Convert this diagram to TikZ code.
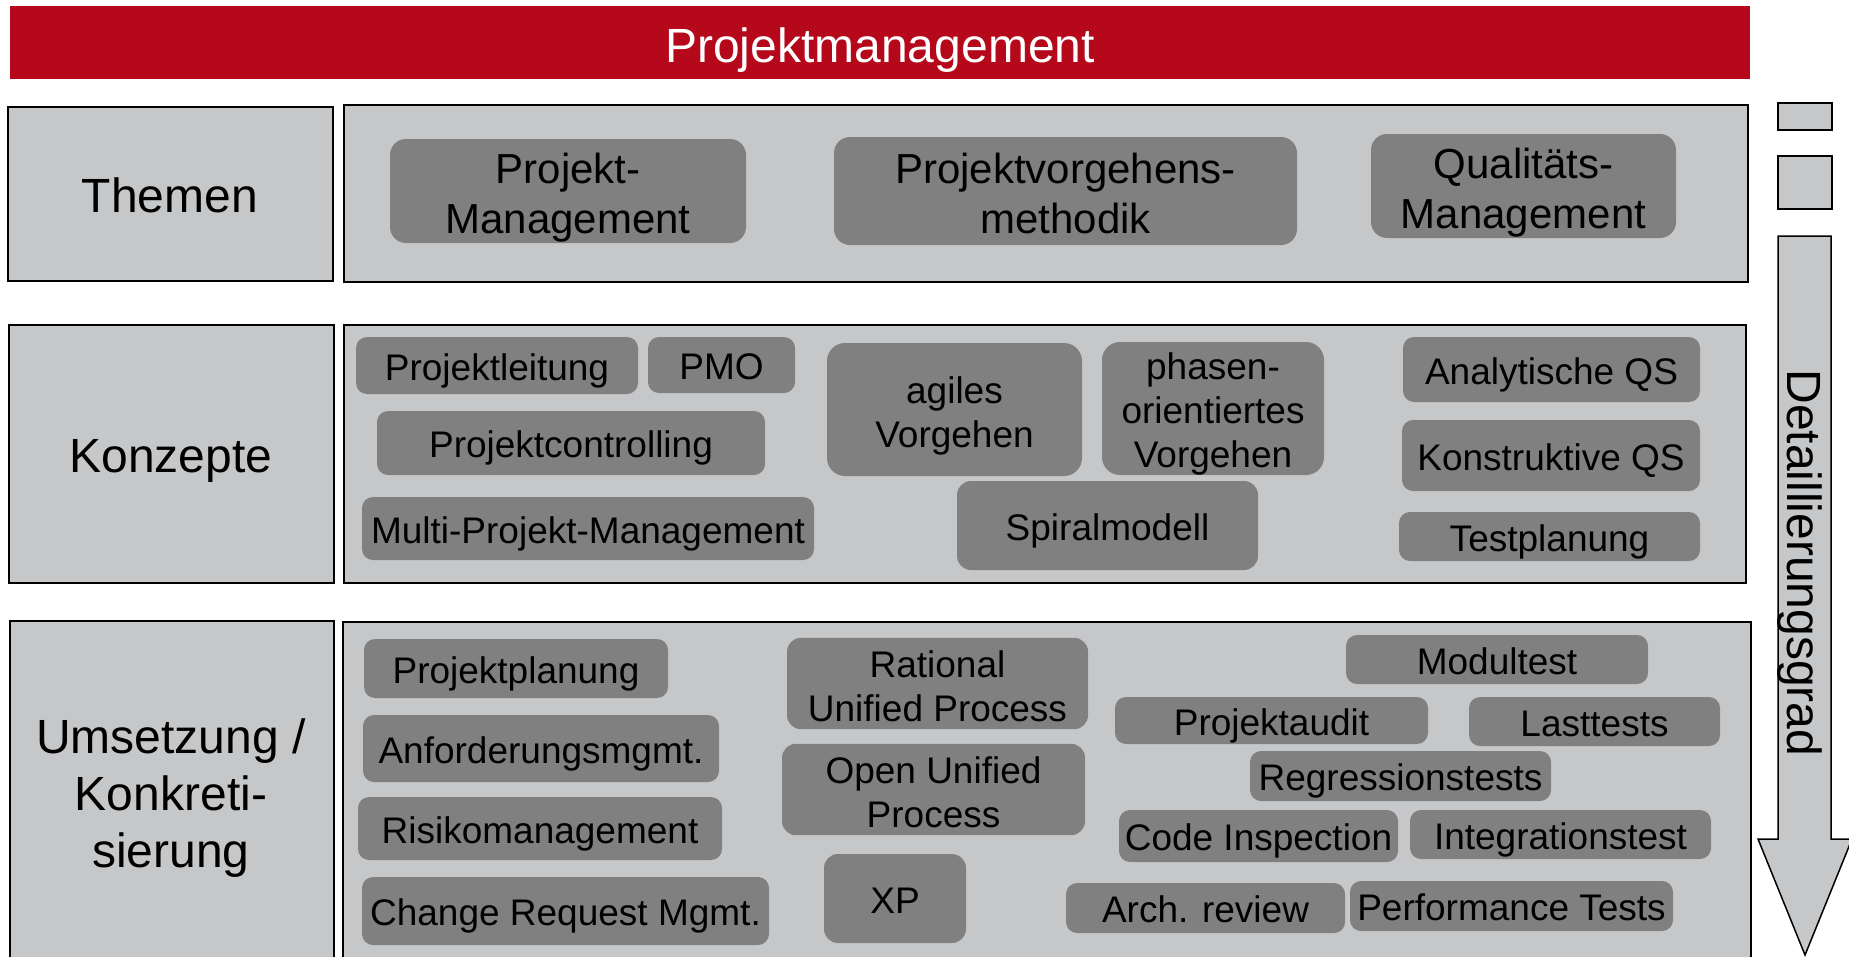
\documentclass[tikz,border=0pt]{standalone}
\usepackage{fontspec}
\setmainfont{Liberation Sans}

\definecolor{pmred}{RGB}{181,8,26}
\definecolor{lightgrey}{RGB}{198,199,201}
\definecolor{boxgrey}{RGB}{128,128,128}

% strut for the first line of a multi-line box
\newcommand\topstrut[1][1.06em]{\rule{0pt}{#1}}

\tikzset{
  pptstrut/.style={execute at begin node={\rule{0pt}{1em}},
    execute at end node={\rule[-0.212em]{0pt}{0.212em}}},
  framebox/.style={draw=black, line width=2pt, fill=lightgrey, inner sep=0pt},
  label/.style={pptstrut, font=\fontsize{48}{57}\selectfont, align=center},
  topic/.style={pptstrut, fill=boxgrey, rounded corners=16pt, inner sep=0pt, align=center,
    font=\fontsize{42}{50}\selectfont},
  item/.style={pptstrut, fill=boxgrey, rounded corners=11pt, inner sep=0pt, align=center,
    font=\fontsize{37}{44}\selectfont},
}

\begin{document}
\begin{tikzpicture}[x=1pt, y=-1pt]
  \useasboundingbox (0,0) rectangle (1849,956);
  \clip (0,0) rectangle (1849,956);

  % title bar
  \fill[pmred] (10,6) rectangle (1750,79);
  \node[label, text=white] (title) at (880,44) {Projektmanagement};

  % rows
  \draw[framebox] (8,107) rectangle (333,281);
  \draw[framebox] (344,105) rectangle (1748,282);
  \draw[framebox] (9,325) rectangle (334,583);
  \draw[framebox] (344,325) rectangle (1746,583);
  \draw[framebox] (10,621) rectangle (334,962);
  \draw[framebox] (343,622) rectangle (1751,962);

  \node[label] (themen) at (170,194) {Themen};
  \node[label] (konzepte) at (171,454) {Konzepte};
  \node[label] (umsetzung) at (171,793) {\topstrut[0.93em]Umsetzung /\\Konkreti-\\sierung};

  % Themen
  \node[topic, minimum width=356pt, minimum height=104pt] (pm) at (568,191) {\topstrut Projekt-\\Management};
  \node[topic, minimum width=463pt, minimum height=108pt] (pvm) at (1065.5,191) {\topstrut Projektvorgehens-\\methodik};
  \node[topic, minimum width=305pt, minimum height=104pt] (qm) at (1523.5,186) {\topstrut Qualit\"ats-\\Management};

  % Konzepte
  \node[item, minimum width=282pt, minimum height=57pt] (pl) at (497,365.5) {Projektleitung};
  \node[item, minimum width=147pt, minimum height=56pt] (pmo) at (721.5,365) {PMO};
  \node[item, minimum width=388pt, minimum height=64pt] (pc) at (571,443) {Projektcontrolling};
  \node[item, minimum width=452pt, minimum height=63pt] (mpm) at (588,528.5) {Multi-Projekt-Management};
  \node[item, rounded corners=18pt, minimum width=255pt, minimum height=133pt] (agil) at (954.5,409.5) {\topstrut[1.07em]agiles\\Vorgehen};
  \node[item, rounded corners=18pt, minimum width=222pt, minimum height=133pt] (phase) at (1213,408.5) {\topstrut[1.0em]phasen-\\orientiertes\\Vorgehen};
  \node[item, rounded corners=14pt, minimum width=301pt, minimum height=89pt] (spiral) at (1107.5,525.5) {Spiralmodell};
  \node[item, minimum width=297pt, minimum height=65pt] (aqs) at (1551.5,369.5) {Analytische QS};
  \node[item, minimum width=298pt, minimum height=71pt] (kqs) at (1551,455.5) {Konstruktive QS};
  \node[item, minimum width=301pt, minimum height=49pt] (tp) at (1549.5,536.5) {Testplanung};

  % Umsetzung
  \node[item, minimum width=304pt, minimum height=59pt] (ppl) at (516,668.5) {Projektplanung};
  \node[item, minimum width=356pt, minimum height=67pt] (anf) at (541,748.5) {Anforderungsmgmt.};
  \node[item, minimum width=364pt, minimum height=63pt] (risk) at (540,828.5) {Risikomanagement};
  \node[item, minimum width=407pt, minimum height=68pt] (crm) at (565.5,911) {Change Request Mgmt.};
  \node[item, rounded corners=14pt, minimum width=301pt, minimum height=89pt] (rup) at (937.5,683.5) {\topstrut[1.07em]Rational\\Unified Process};
  \node[item, rounded corners=14pt, minimum width=303pt, minimum height=89pt] (oup) at (933.5,789.5) {\topstrut[1.07em]Open Unified\\Process};
  \node[item, rounded corners=14pt, minimum width=142pt, minimum height=89pt] (xp) at (895,898.5) {XP};
  \node[item, minimum width=302pt, minimum height=49pt] (modul) at (1497,659.5) {Modultest};
  \node[item, minimum width=313pt, minimum height=47pt] (audit) at (1271.5,720.5) {Projektaudit};
  \node[item, minimum width=251pt, minimum height=49pt] (last) at (1594.5,721.5) {Lasttests};
  \node[item, minimum width=301pt, minimum height=50pt] (regr) at (1400.5,776) {Regressionstests};
  \node[item, minimum width=279pt, minimum height=52pt] (code) at (1258.5,836) {Code Inspection};
  \node[item, minimum width=301pt, minimum height=49pt] (integ) at (1560.5,834.5) {Integrationstest};
  \node[item, minimum width=279pt, minimum height=50pt] (arch) at (1205.5,908) {Arch. review};
  \node[item, minimum width=323pt, minimum height=50pt] (perf) at (1511.5,906) {Performance Tests};

  % Detaillierungsgrad
  \draw[framebox] (1778,103) rectangle (1832,130);
  \draw[framebox] (1778,156) rectangle (1832,209);
  \draw[framebox, line width=1.5pt] (1778,236) -- (1831,236) -- (1831,839) -- (1852,839)
    -- (1805,955) -- (1758,839) -- (1778,839) -- cycle;
  \node[label, rotate=-90] (detail) at (1806,563) {Detaillierungsgrad};
\end{tikzpicture}
\end{document}
